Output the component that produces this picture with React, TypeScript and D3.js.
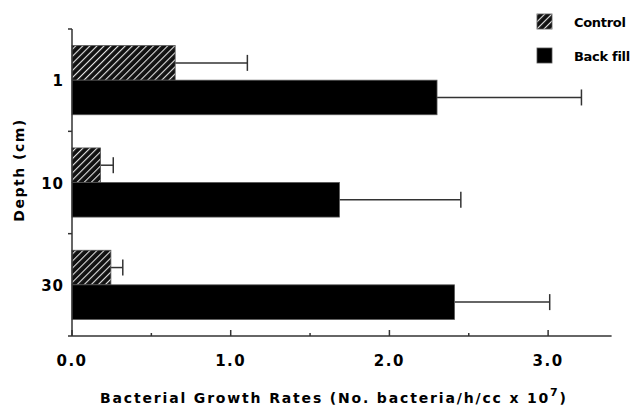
import React from 'react';
import * as d3 from 'd3';

// depth categories and the two series (growth rate, x10^7)
const depths = ['1', '10', '30'];
const seriesNames = ['Control', 'Back fill'];
const controlValues = [0.65, 0.18, 0.245];
const controlErrors = [1.105, 0.26, 0.32];
const backfillValues = [2.3, 1.685, 2.41];
const backfillErrors = [3.21, 2.45, 3.01];
const xTicks = [0, 1, 2, 3];
const xMinorTicks = [0.5, 1.5, 2.5];

const W = 641;
const H = 410;
const FONT = '"DejaVu Sans", Arial, sans-serif';

export default function App() {
  const x = d3.scaleLinear().domain([0, 3.4]).range([72, 611.6]);
  const y = d3.scaleBand().domain(depths).range([29, 336]).paddingInner(0).paddingOuter(0);
  const inner = d3.scaleBand().domain(seriesNames).range([0, y.bandwidth()]).paddingInner(0).paddingOuter(0.48);

  const rows = depths.map((d, i) => ({
    depth: d,
    bars: [
      { name: seriesNames[0], value: controlValues[i], err: controlErrors[i] },
      { name: seriesNames[1], value: backfillValues[i], err: backfillErrors[i] },
    ],
  }));

  const yTickPos = depths.map(d => y(d)!).concat([y.range()[1]]);
  const fillFor = (name: string) => (name === seriesNames[0] ? 'url(#hatch)' : '#000');

  return (
    <div style={{ position: 'absolute', left: 0, top: 0 }}>
      <svg width={W} height={H} style={{ display: 'block', background: '#fff' }}>
        <defs>
          <pattern id="hatch" patternUnits="userSpaceOnUse" width={5} height={5} patternTransform="rotate(45)">
            <rect width={5} height={5} fill="#111" />
            <line x1={0} y1={0} x2={0} y2={5} stroke="#e4e4e4" strokeWidth={2.2} />
          </pattern>
        </defs>

        {/* bars + error bars */}
        {rows.map(r => (
          <g key={r.depth} transform={`translate(0,${y(r.depth)})`}>
            {r.bars.map(b => {
              const by = inner(b.name)!;
              const bh = inner.bandwidth();
              const cy = by + bh / 2;
              return (
                <g key={b.name}>
                  <line x1={x(b.value)} x2={x(b.err)} y1={cy} y2={cy} stroke="#333" strokeWidth={1.5} />
                  <line x1={x(b.err)} x2={x(b.err)} y1={cy - 8} y2={cy + 8} stroke="#333" strokeWidth={1.5} />
                  <rect x={x(0)} y={by} width={x(b.value) - x(0)} height={bh} fill={fillFor(b.name)} stroke="#555" strokeWidth={0.8} />
                </g>
              );
            })}
          </g>
        ))}

        {/* x axis */}
        <line x1={x(0)} x2={x.range()[1]} y1={336} y2={336} stroke="#333" strokeWidth={1.5} />
        {xTicks.map(t => (
          <g key={t}>
            <line x1={x(t)} x2={x(t)} y1={336} y2={330} stroke="#333" strokeWidth={1.5} />
            <text x={x(t)} y={366} textAnchor="middle" fontFamily={FONT} fontWeight="bold" fontSize={15} letterSpacing={1.5}>
              {d3.format('.1f')(t)}
            </text>
          </g>
        ))}
        {xMinorTicks.map(t => (
          <line key={t} x1={x(t)} x2={x(t)} y1={336} y2={333} stroke="#333" strokeWidth={1.5} />
        ))}

        {/* y axis */}
        <line x1={x(0)} x2={x(0)} y1={y.range()[0]} y2={336} stroke="#333" strokeWidth={1.5} />
        {yTickPos.map((p, i) => (
          <line key={i} x1={x(0) - 4} x2={x(0)} y1={p} y2={p} stroke="#333" strokeWidth={1.5} />
        ))}
        {depths.map(d => (
          <text key={d} x={64} y={y(d)! + y.bandwidth() / 2 + 6} textAnchor="end" fontFamily={FONT} fontWeight="bold" fontSize={15} letterSpacing={1}>
            {d}
          </text>
        ))}

        {/* axis titles */}
        <text x={333} y={403} textAnchor="middle" fontFamily={FONT} fontWeight="bold" fontSize={14} textLength={466} lengthAdjust="spacing">
          Bacterial Growth Rates (No. bacteria/h/cc x 10<tspan dy={-7} fontSize={11}>7</tspan><tspan dy={7}>)</tspan>
        </text>
        <text transform="translate(24,170) rotate(-90)" textAnchor="middle" fontFamily={FONT} fontWeight="bold" fontSize={14} letterSpacing={1.5}>
          Depth (cm)
        </text>

        {/* legend */}
        {seriesNames.map((n, i) => (
          <g key={n} transform={`translate(537,${14 + i * 34})`}>
            <rect width={15} height={15} fill={fillFor(n)} stroke="#555" strokeWidth={0.8} />
            <text x={37} y={12.5} fontFamily={FONT} fontWeight="bold" fontSize={13} letterSpacing={-0.3}>{n}</text>
          </g>
        ))}
      </svg>
    </div>
  );
}
